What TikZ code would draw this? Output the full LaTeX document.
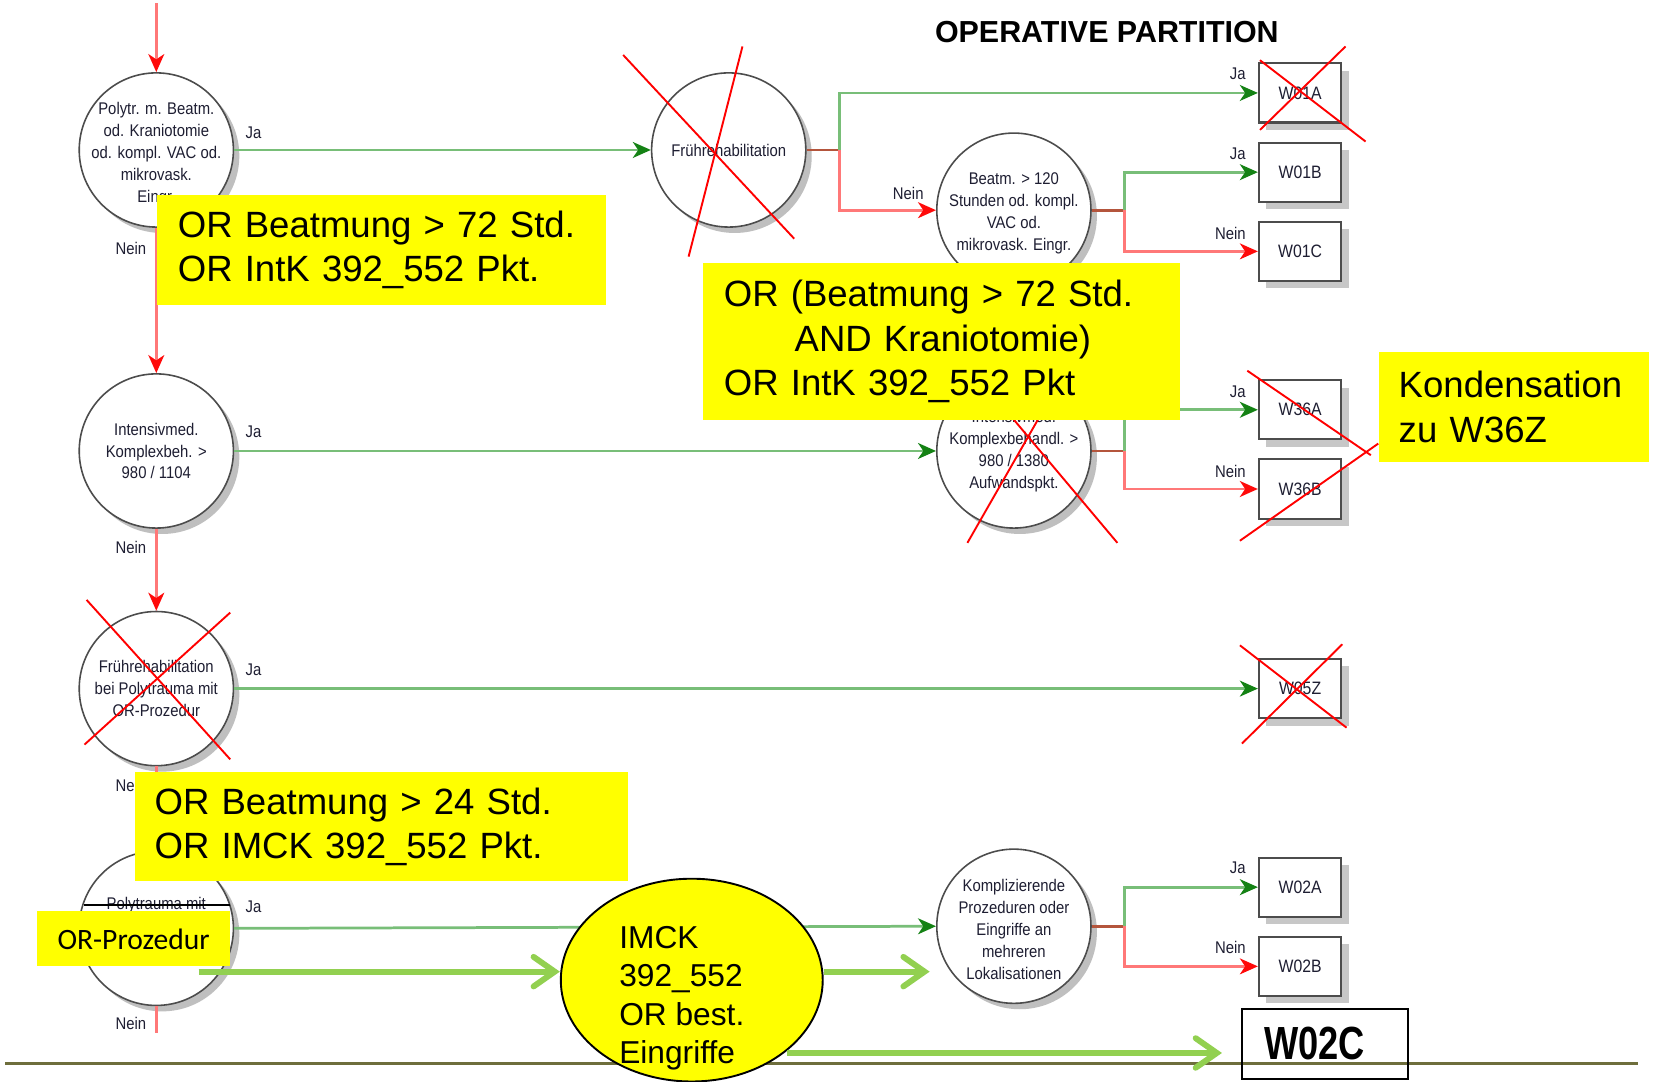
\documentclass[tikz,border=0pt]{standalone}
\usepackage{fontspec}
\usepackage{graphicx}
\setmainfont{Liberation Sans}
\newfontfamily\narrowf[FakeStretch=0.88]{Liberation Sans}
\newfontfamily\carlf{Carlito}
\usetikzlibrary{arrows.meta,shadows,shapes.geometric}
\definecolor{gl}{RGB}{120,190,120}
\definecolor{gh}{RGB}{20,130,20}
\definecolor{rl}{RGB}{255,120,120}
\definecolor{rh}{RGB}{255,10,10}
\definecolor{br}{RGB}{180,85,60}
\definecolor{lg}{RGB}{146,208,80}
\definecolor{olv}{RGB}{110,110,60}
\definecolor{yel}{RGB}{255,255,0}
\definecolor{tx}{RGB}{30,30,50}
\tikzset{
 circ/.style={circle, draw=black!70, line width=0.75pt, fill=white, minimum size=73pt, inner sep=-6pt, align=center, text=tx, font=\narrowf\fontsize{8}{10.35}\selectfont, drop shadow={shadow xshift=2.8pt, shadow yshift=-2.8pt, fill=black!25, opacity=1}},
 ctext/.style={align=center, inner sep=0pt, text=tx, font=\narrowf\fontsize{8}{10.35}\selectfont},
 wbox/.style={rectangle, draw=black!70, line width=1pt, fill=white, minimum width=39pt, minimum height=28pt, inner sep=0pt, text=tx, font=\narrowf\fontsize{8.5}{10}\selectfont, drop shadow={shadow xshift=3.5pt, shadow yshift=-3.5pt, fill=black!22, opacity=1}},
 lbl/.style={inner sep=0pt, text=tx, font=\narrowf\fontsize{8}{10}\selectfont},
 gline/.style={draw=gl, line width=1.3pt, -{Stealth[length=8.5pt,width=7.5pt,inset=2.5pt,color=gh]}},
 rline/.style={draw=rl, line width=1.3pt, -{Stealth[length=8.5pt,width=7.5pt,inset=2.5pt,color=rh]}},
 rstub/.style={draw=rl, line width=1.3pt},
 brn/.style={draw=br, line width=1.3pt},
 xline/.style={draw=red, line width=0.9pt},
 ybox/.style={fill=yel, inner xsep=10pt, inner ysep=0pt, align=left, anchor=north west, font=\fontsize{17.3}{21}\selectfont},
 bigarr/.style={draw=lg, line width=2.8pt, -{Straight Barb[length=10pt,width=14pt,line cap=round]}},
}
\begin{document}
\begin{tikzpicture}[x=0.5pt,y=-0.5pt]
\useasboundingbox (0,0) rectangle (1568,1024);
\fill[white] (0,0) rectangle (1568,1024);
% bottom rule
\draw[olv, line width=1.1pt] (5,1007) -- (1551,1007);
% title
\node[font=\bfseries\fontsize{14.4}{16}\selectfont] (title) at (1048,30) {OPERATIVE PARTITION};
% decision circles
\node[circ, label={[ctext, yshift=-2pt]center:{Polytr. m. Beatm.\\od. Kraniotomie\\od. kompl. VAC od.\\mikrovask.\\Eingr.}}] (c1) at (148,142) {};
\node[circ] (c2) at (148,427) {Intensivmed.\\Komplexbeh. >\\980 / 1104};
\node[circ] (c3) at (148,652) {Frührehabilitation\\bei Polytrauma mit\\OR-Prozedur};
\node[circ] (c4) at (148,879) {};
\node[lbl] (c4t) at (148,857) {Polytrauma mit};
\draw[black, line width=0.8pt] (80,857) -- (218,857);
\node[circ] (fr) at (690,142) {Frührehabilitation};
\node[circ, label={[ctext, yshift=-1.5pt]center:{Beatm. > 120\\Stunden od. kompl.\\VAC od.\\mikrovask. Eingr.}}] (bt) at (960,199) {};
\node[circ] (im) at (960,427) {Intensivmed.\\Komplexbehandl. >\\980 / 1380\\Aufwandspkt.};
\node[circ, label={[ctext, yshift=-1.5pt]center:{Komplizierende\\Prozeduren oder\\Eingriffe an\\mehreren\\Lokalisationen}}] (kp) at (960,877) {};
% result boxes
\node[wbox] (w01a) at (1231,88) {W01A};
\node[wbox] (w01b) at (1231,163) {W01B};
\node[wbox] (w01c) at (1231,238) {W01C};
\node[wbox] (w36a) at (1231,388) {W36A};
\node[wbox] (w36b) at (1231,463) {W36B};
\node[wbox] (w05z) at (1231,652) {W05Z};
\node[wbox] (w02a) at (1231,840) {W02A};
\node[wbox] (w02b) at (1231,915) {W02B};
% junctions and free ends
\coordinate (top0) at (148,3);
\coordinate (c4n) at (148,978);
\coordinate (j1) at (795,142);
\coordinate (j2) at (1065,199);
\coordinate (j3) at (1065,427);
\coordinate (j4) at (1065,877);
% connectors
\draw[rline] (top0) -- (c1.north);
\draw[gline] (c1.east) -- (fr.west);
\draw[rline] (c1.south) -- (c2.north);
\draw[gline] (c2.east) -- (im.west);
\draw[rline] (c2.south) -- (c3.north);
\draw[gline] (c3.east) -- (w05z.west);
\draw[rline] (c3.south) -- (c4.north);
\draw[gline] (c4.east) -- (kp.west);
\draw[rstub] (c4.south) -- (c4n);
\draw[brn] (fr.east) -- (j1);
\draw[gline] (j1) |- (w01a.west);
\draw[rline] (j1) |- (bt.west);
\draw[brn] (bt.east) -- (j2);
\draw[gline] (j2) |- (w01b.west);
\draw[rline] (j2) |- (w01c.west);
\draw[brn] (im.east) -- (j3);
\draw[gline] (j3) |- (w36a.west);
\draw[rline] (j3) |- (w36b.west);
\draw[brn] (kp.east) -- (j4);
\draw[gline] (j4) |- (w02a.west);
\draw[rline] (j4) |- (w02b.west);
% labels
\node[lbl] (l1) at (240,126) {Ja};
\node[lbl] (l2) at (124,235) {Nein};
\node[lbl] (l3) at (240,409) {Ja};
\node[lbl] (l4) at (124,518) {Nein};
\node[lbl] (l5) at (240,634) {Ja};
\node[lbl] (l6) at (124,744) {Nein};
\node[lbl] (l7) at (240,859) {Ja};
\node[lbl] (l8) at (124,969) {Nein};
\node[lbl] (l9) at (860,183) {Nein};
\node[lbl] (l10) at (1172,70) {Ja};
\node[lbl] (l11) at (1172,146) {Ja};
\node[lbl] (l12) at (1165,221) {Nein};
\node[lbl] (l13) at (1172,371) {Ja};
\node[lbl] (l14) at (1165,446) {Nein};
\node[lbl] (l15) at (1172,822) {Ja};
\node[lbl] (l16) at (1165,897) {Nein};
% crosses
\draw[xline] (590,52) -- (752,226);
\draw[xline] (703,44) -- (652,243);
\draw[xline] (1193,57) -- (1293,134);
\draw[xline] (1274,44) -- (1193,123);
\draw[xline] (1181,351) -- (1298,431);
\draw[xline] (1174,512) -- (1305,420);
\draw[xline] (916,514) -- (1031,313);
\draw[xline] (1058,514) -- (889,313);
\draw[xline] (82,568) -- (218,719);
\draw[xline] (218,580) -- (80,705);
\draw[xline] (1174,611) -- (1275,689);
\draw[xline] (1271,610) -- (1176,704);
% yellow notes
\node[ybox, text width=192.5pt, minimum height=52pt] (y1) at (148,184) {OR Beatmung > 72 Std.\\OR IntK 392\_552 Pkt.};
\node[ybox, text width=206pt, minimum height=74pt] (y2) at (665,249) {OR (Beatmung > 72 Std.\\\hspace*{33.5pt}AND Kraniotomie)\\OR IntK 392\_552 Pkt};
\node[ybox, inner xsep=9.5pt, text width=109pt, minimum height=52pt] (y3) at (1305,333) {Kondensation\\zu W36Z};
\node[ybox, inner xsep=9.5pt, text width=214.5pt, minimum height=51.5pt] (y4) at (127,731) {OR Beatmung > 24 Std.\\OR IMCK 392\_552 Pkt.};
\node[fill=yel, minimum width=91.5pt, minimum height=26pt, inner sep=0pt, font=\carlf\fontsize{14}{16}\selectfont] (y5) at (126.5,889) {OR-Prozedur};
\node[ellipse, draw=black, line width=0.9pt, fill=yel, minimum width=124pt, minimum height=96pt, inner sep=0pt] (ell) at (655,928) {};
\node[anchor=west, align=left, inner sep=0pt, font=\fontsize{15}{18.2}\selectfont] (ellt) at (586,945) {IMCK\\392\_552\\OR best.\\Eingriffe};
\node[draw=black, line width=1pt, minimum width=78.5pt, minimum height=33.5pt, inner sep=0pt] (w02c) at (1254.5,988.5) {\scalebox{0.78}[1]{\bfseries\fontsize{22}{24}\selectfont W02C}\hspace*{10pt}};
% big green arrows
\coordinate (a1) at (188,920);
\coordinate (a3) at (745,997);
\draw[bigarr] (a1) -- (a1 -| ell.west);
\draw[bigarr, shorten >=3pt] (a1 -| ell.east) -- (a1 -| kp.west);
\draw[bigarr, shorten >=9pt] (a3) -- (a3 -| w02c.west);
\end{tikzpicture}
\end{document}
